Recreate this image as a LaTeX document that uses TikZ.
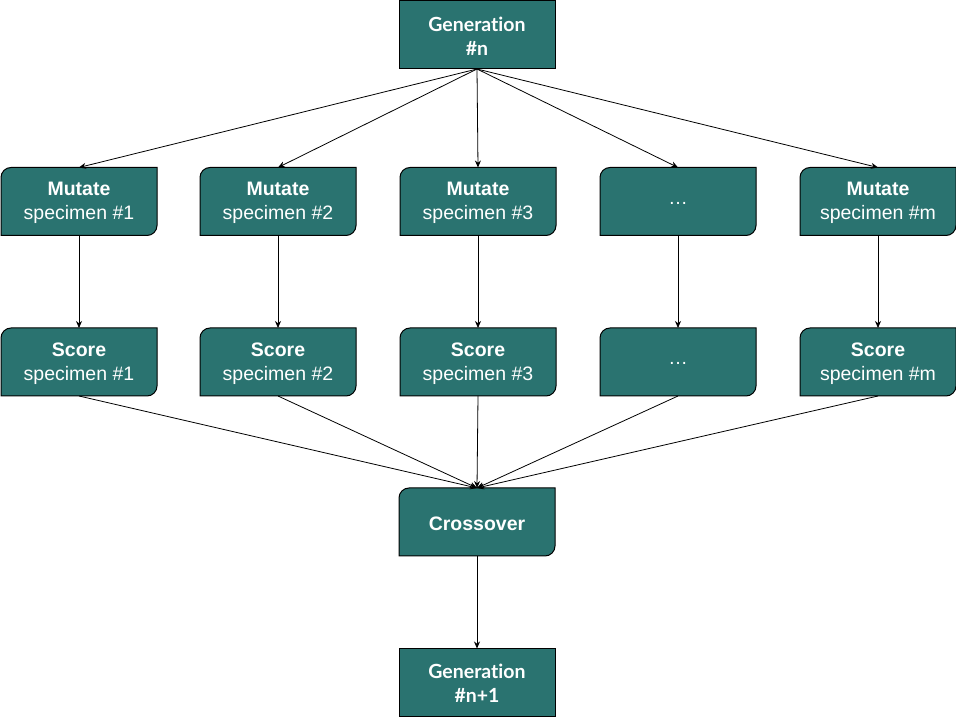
\documentclass[tikz,border=0pt]{standalone}
\usepackage{fontspec}
\setmainfont{Liberation Sans}
\newfontfamily\latofont{Lato}[Ligatures=NoCommon]
\usetikzlibrary{arrows.meta}
\definecolor{boxteal}{RGB}{42,115,112}
\tikzset{
  boxframe/.style={inner sep=0pt, outer sep=0pt, minimum width=156pt, minimum height=68pt},
  boxtext/.style={inner sep=0pt, text=white, align=center, font=\fontsize{19.5}{24}\selectfont},
  gentext/.style={boxtext, font=\latofont\bfseries\fontsize{19.5}{24}\selectfont},
  boxshape/.style={fill=boxteal, draw=black, line width=1pt},
  conn/.style={draw=black, line width=0.8pt, -{Stealth[length=7pt,width=6pt]}}
}
% name, cx, cy, text  (top-left and bottom-right rounded)
\newcommand\rndbox[4]{%
  \path[boxshape] (#2-78,#3-34) -- (#2-78,#3+24) arc[start angle=180,end angle=90,radius=10]
    -- (#2+78,#3+34) -- (#2+78,#3-24) arc[start angle=0,end angle=-90,radius=10] -- cycle;
  \node[boxframe] (#1) at (#2,#3) {};
  \node[boxtext] (#1-t) at (#2,#3-1.5) {#4};}
\newcommand\sqbox[4]{%
  \path[boxshape] (#2-78,#3-34) rectangle (#2+78,#3+34);
  \node[boxframe] (#1) at (#2,#3) {};
  \node[gentext] (#1-t) at (#2,#3-1) {#4};}
\begin{document}
\begin{tikzpicture}[x=1pt,y=1pt]
\useasboundingbox (0,0) rectangle (956,718);
\sqbox{gen}{477}{683}{Generation\\\#n}
\rndbox{m1}{79}{516.5}{\textbf{Mutate}\\specimen \#1}
\rndbox{m2}{278}{516.5}{\textbf{Mutate}\\specimen \#2}
\rndbox{m3}{478}{516.5}{\textbf{Mutate}\\specimen \#3}
\rndbox{m4}{678}{516.5}{\dots}
\rndbox{m5}{878}{516.5}{\textbf{Mutate}\\specimen \#m}
\rndbox{s1}{79}{356}{\textbf{Score}\\specimen \#1}
\rndbox{s2}{278}{356}{\textbf{Score}\\specimen \#2}
\rndbox{s3}{478}{356}{\textbf{Score}\\specimen \#3}
\rndbox{s4}{678}{356}{\dots}
\rndbox{s5}{878}{356}{\textbf{Score}\\specimen \#m}
\rndbox{cross}{477}{196}{\textbf{Crossover}}
\sqbox{gen2}{477}{35.5}{Generation\\\#n+1}
\foreach \i in {1,...,5} {
  \draw[conn] (gen.south) -- (m\i.north);
  \draw[conn] (m\i.south) -- (s\i.north);
  \draw[conn] (s\i.south) -- (cross.north);
}
\draw[conn] (cross.south) -- (gen2.north);
\end{tikzpicture}
\end{document}
